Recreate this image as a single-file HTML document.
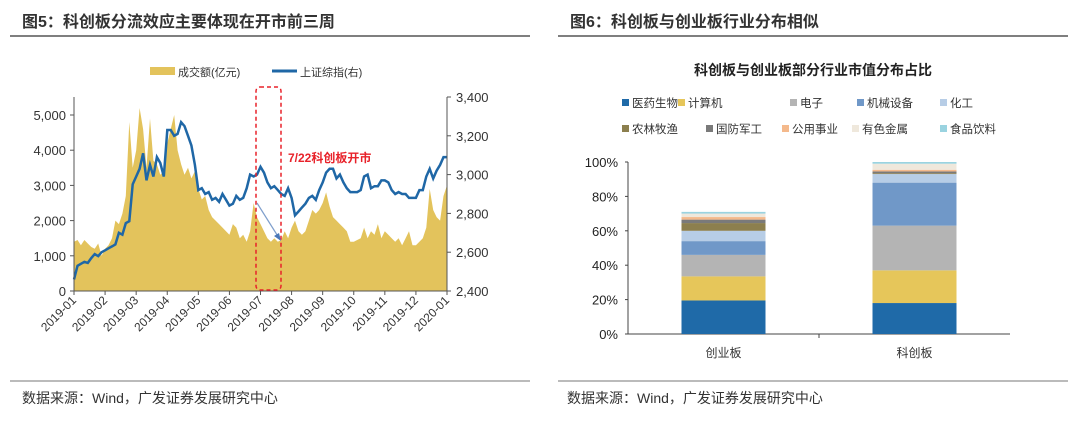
<!DOCTYPE html>
<html><head><meta charset="utf-8">
<style>
body{margin:0;width:1080px;height:425px;background:#fff;font-family:"Liberation Sans","Noto Sans CJK SC",sans-serif;overflow:hidden;position:relative}
.t{position:absolute;white-space:nowrap}
</style></head><body>
<div class="t" style="left:22px;top:8px;font-size:16px;font-weight:bold;color:#333">图5：科创板分流效应主要体现在开市前三周</div>
<div class="t" style="left:570px;top:8px;font-size:16px;font-weight:bold;color:#333">图6：科创板与创业板行业分布相似</div>
<div class="t" style="left:22px;top:388px;font-size:14px;color:#333">数据来源：Wind，广发证券发展研究中心</div>
<div class="t" style="left:567px;top:388px;font-size:14px;color:#333">数据来源：Wind，广发证券发展研究中心</div>
<svg width="1080" height="425" style="position:absolute;left:0;top:0" id="svg" font-family="Liberation Sans, Noto Sans CJK SC, sans-serif">
<line x1="10" y1="36" x2="530" y2="36" stroke="#555" stroke-width="1.5"/>
<line x1="558" y1="36" x2="1068" y2="36" stroke="#555" stroke-width="1.5"/>
<line x1="10" y1="381" x2="530" y2="381" stroke="#777"/>
<line x1="558" y1="381" x2="1068" y2="381" stroke="#777"/>
<g id="left"></g><g id="right"></g>
</svg>
<script>
// ---- left chart data (9 samples per month + final point) ----
const months=["2019-01","2019-02","2019-03","2019-04","2019-05","2019-06","2019-07","2019-08","2019-09","2019-10","2019-11","2019-12","2020-01"];
const volTicks=[0,1000,2000,3000,4000,5000];
const idxTicks=[2400,2600,2800,3000,3200,3400];
const volume=[1400,1450,1300,1450,1350,1250,1200,1350,1000,
1200,1300,1500,2000,1900,2200,2700,4800,3500,
4000,5200,4600,3500,4900,3700,3600,3300,3400,
4200,4600,5000,4000,3600,3300,3500,3200,3400,
2900,2600,2700,2300,2100,2000,1900,1800,1700,
1600,1900,1800,1500,1600,1400,1700,2500,2100,
1900,1700,1500,1400,1500,1400,1450,1700,1500,
1800,2000,1700,1600,1700,2000,2300,2200,2300,
2500,2800,2400,2100,2000,1900,1800,1700,1400,
1400,1450,1500,1800,1500,1700,1600,1900,1500,
1700,1600,1500,1400,1500,1300,1500,1700,1300,
1300,1400,1500,1800,2900,2300,2100,2000,2700,3000];
const indexVals=[2460,2530,2540,2550,2545,2570,2590,2580,2600,
2610,2620,2630,2640,2700,2690,2750,2760,2950,
2990,3030,3110,2970,3050,2990,3090,3060,2990,
3230,3230,3200,3210,3270,3250,3200,3150,3050,
2920,2930,2900,2910,2870,2880,2860,2900,2870,
2840,2850,2890,2870,2880,2930,3000,2990,3000,
3040,3010,2960,2930,2940,2920,2900,2890,2930,
2880,2790,2810,2830,2850,2880,2890,2870,2920,
2960,3010,3030,3030,2980,3000,2960,2930,2910,
2910,2910,2920,2990,3000,2930,2940,2940,2970,
2970,2960,2920,2900,2910,2900,2900,2880,2880,
2880,2920,2920,2990,3030,2980,3020,3050,3090,3090];
// ---- right chart data ----
const boards=["创业板","科创板"];
const industries=["医药生物","计算机","电子","机械设备","化工","农林牧渔","国防军工","公用事业","有色金属","食品饮料"];
const chiNext=[19.5,14,12.5,8,6,4.5,2,1.5,2,1];
const star=[18,19,26,25,5,0.5,1,1,3.5,1];
const pctTicks=[0,20,40,60,80,100];

const NS="http://www.w3.org/2000/svg";
function mk(parent,tag,attrs,text){const e=document.createElementNS(NS,tag);for(const k in attrs)e.setAttribute(k,attrs[k]);if(text!==undefined)e.textContent=text;parent.appendChild(e);return e;}

// left
const L=document.getElementById('left');
const x0=74,x1=447,yb=291;
const xm=i=>x0+(x1-x0)*i/(months.length-1);
const yv=v=>yb-v*(176/5000);
const yi=v=>yb-(v-2400)*(194/1000);
const xs=(i,n)=>x0+(x1-x0)*i/(n-1);
let d=`M${x0},${yb}`;
volume.forEach((v,i)=>{d+=` L${xs(i,volume.length).toFixed(1)},${yv(v).toFixed(1)}`;});
d+=` L${x1},${yb} Z`;
const area=mk(L,'path',{d:d,fill:'#e3c35c'});


let dl='';
indexVals.forEach((v,i)=>{dl+=(i?' L':'M')+xs(i,indexVals.length).toFixed(1)+','+yi(v).toFixed(1);});
const ln=mk(L,'path',{d:dl,fill:'none',stroke:'#1f67a6','stroke-width':2.5});


mk(L,'line',{x1:x0,y1:yb,x2:x1,y2:yb,stroke:'#555'});
mk(L,'line',{x1:x0,y1:97,x2:x0,y2:yb,stroke:'#555'});
mk(L,'line',{x1:x1,y1:97,x2:x1,y2:yb,stroke:'#555'});
volTicks.forEach(v=>{const t=mk(L,'text',{x:66,y:yv(v)+5,'text-anchor':'end','font-size':13,fill:'#333'},v.toLocaleString('en-US'));


mk(L,'line',{x1:x0-4,y1:yv(v),x2:x0,y2:yv(v),stroke:'#555'});});
idxTicks.forEach(v=>{const t=mk(L,'text',{x:456,y:yi(v)+5,'font-size':13,fill:'#333'},v.toLocaleString('en-US'));


mk(L,'line',{x1:x1,y1:yi(v),x2:x1+4,y2:yi(v),stroke:'#555'});});
months.forEach((m,i)=>{const x=xm(i);mk(L,'line',{x1:x,y1:yb,x2:x,y2:yb+4,stroke:'#555'});
const t=mk(L,'text',{x:x+3,y:yb+10,'text-anchor':'end','font-size':12,fill:'#333',transform:`rotate(-45 ${x+3} ${yb+10})`},m);

});
// legend
const lg=mk(L,'g',{});


mk(lg,'rect',{x:150,y:67,width:25,height:8,fill:'#e3c35c'});
mk(lg,'text',{x:178,y:76,'font-size':11,fill:'#333'},'成交额(亿元)');
mk(lg,'line',{x1:272,y1:71,x2:297,y2:71,stroke:'#1f67a6','stroke-width':3});
mk(lg,'text',{x:300,y:76,'font-size':11,fill:'#333'},'上证综指(右)');
const rr=mk(L,'rect',{x:256,y:87,width:25,height:203,rx:4,fill:'none',stroke:'#e8222a','stroke-width':1.5,'stroke-dasharray':'4,3'});


const an=mk(L,'text',{x:288,y:162,'font-size':12,'font-weight':'bold',fill:'#e8222a'},'7/22科创板开市');


mk(L,'line',{x1:257,y1:203,x2:279,y2:238,stroke:'#7f9fcc','stroke-width':1.2});
mk(L,'path',{d:'M281,241 L274,236 L279,233 Z',fill:'#4a78b8'});

// right
const R=document.getElementById('right');
const colors=['#1f6aa8','#e6c65a','#b4b4b4','#7098c8','#b7cde6','#8c7f4e','#7a7a7a','#f4b98c','#efe8dc','#9ad3e0'];
const rb=334,rt=162,rx0=628,rx1=1010;
const yp=v=>rb-(rb-rt)*v/100;
const rt1=mk(R,'text',{x:813,y:75,'text-anchor':'middle','font-size':14,'font-weight':'bold',fill:'#222'},'科创板与创业板部分行业市值分布占比');


const legX=[[622,678,790,857,940],[622,706,782,852,940]];
industries.forEach((n,i)=>{const r=Math.floor(i/5),c=i%5;const x=legX[r][c],y=r?133:107;
const g=mk(R,'g',{});


mk(g,'rect',{x:x,y:y-8,width:7,height:7,fill:colors[i]});
mk(g,'text',{x:x+10,y:y,'font-size':11.5,fill:'#333'},n);});
pctTicks.forEach(v=>{const t=mk(R,'text',{x:618,y:yp(v)+5,'text-anchor':'end','font-size':13,fill:'#222'},v+'%');


mk(R,'line',{x1:rx0-3,y1:yp(v),x2:rx0,y2:yp(v),stroke:'#444'});});
mk(R,'line',{x1:rx0,y1:rt,x2:rx0,y2:rb,stroke:'#444'});
mk(R,'line',{x1:rx0,y1:rb,x2:rx1,y2:rb,stroke:'#444'});
mk(R,'line',{x1:(rx0+rx1)/2,y1:rb,x2:(rx0+rx1)/2,y2:rb+4,stroke:'#444'});
[chiNext,star].forEach((arr,b)=>{const cx=rx0+(rx1-rx0)*(b*2+1)/4;let acc=0;
arr.forEach((v,i)=>{const r=mk(R,'rect',{x:cx-42,y:yp(acc+v),width:84,height:yp(acc)-yp(acc+v),fill:colors[i]});


acc+=v;});
const t=mk(R,'text',{x:cx,y:357,'text-anchor':'middle','font-size':12,fill:'#333'},boards[b]);

});
</script>
</body></html>
